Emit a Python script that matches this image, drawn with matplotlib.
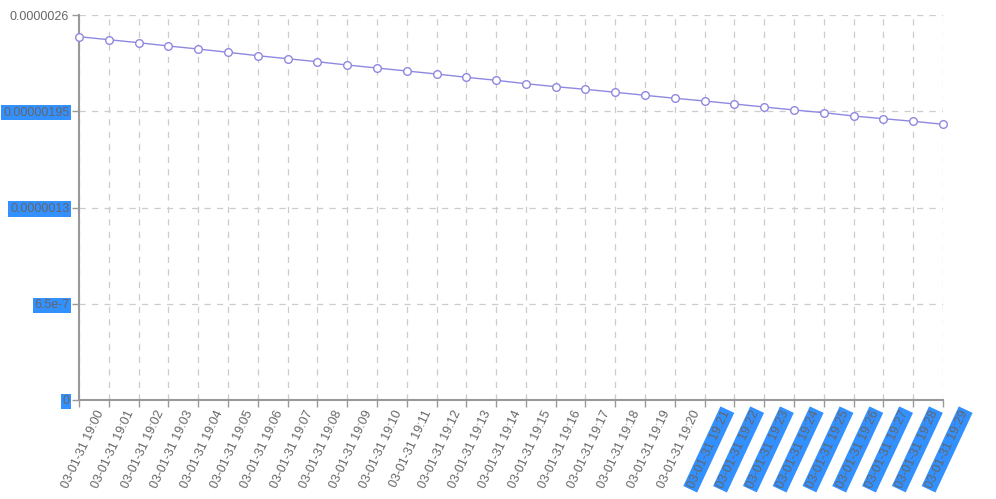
import matplotlib
matplotlib.use("Agg")
import matplotlib.pyplot as plt
from matplotlib.transforms import ScaledTranslation

plt.rcParams['font.family'] = ['Liberation Sans', 'DejaVu Sans']

categories = [f"03-01-31 19:{m:02d}" for m in range(30)]
values = [2.4535e-6, 2.4332e-6, 2.4130e-6, 2.3906e-6, 2.3704e-6, 2.3481e-6,
          2.3251e-6, 2.3049e-6, 2.2846e-6, 2.2623e-6, 2.2421e-6, 2.2218e-6,
          2.2016e-6, 2.1793e-6, 2.1590e-6, 2.1361e-6, 2.1158e-6, 2.0982e-6,
          2.0780e-6, 2.0577e-6, 2.0375e-6, 2.0192e-6, 1.9990e-6, 1.9787e-6,
          1.9584e-6, 1.9402e-6, 1.9179e-6, 1.8997e-6, 1.8821e-6, 1.8619e-6]
y_ticks = [0, 6.5e-7, 1.3e-6, 1.95e-6, 2.6e-6]
y_tick_labels = ['0', '6.5e-7', '0.0000013', '0.00000195', '0.0000026']
y_highlight = [True, True, True, True, False]
x_highlight_from = 21

W, H = 996, 499
fig = plt.figure(figsize=(W / 100, H / 100), dpi=100)
ax = fig.add_axes([79 / W, (H - 400) / H, (943 - 79) / W, (400 - 15) / H])

x = list(range(len(categories)))
ax.plot(x, values, color='#8f88e0', lw=1.0, marker='o', ms=5.5,
        mfc='white', mec='#8f88e0', mew=1.0, zorder=3, clip_on=False)

ax.set_xlim(0, len(categories) - 1)
ax.set_ylim(0, 2.6e-6)
ax.set_xticks(x)
ax.set_yticks(y_ticks)
ax.set_yticklabels(y_tick_labels)
ax.set_xticklabels(categories)

ax.grid(True, color='#cccccc', linestyle=(0, (5, 5)), lw=0.9)
ax.set_axisbelow(True)
for s in ['top', 'right']:
    ax.spines[s].set_visible(False)
for s in ['left', 'bottom']:
    ax.spines[s].set_color('#999999')
    ax.spines[s].set_linewidth(1.5)
ax.tick_params(axis='both', colors='#999999', length=5, width=1,
               labelcolor='#666666', labelsize=9)
ax.tick_params(axis='y', pad=2)
ax.tick_params(axis='x', pad=3)

sel = '#3390ff'
for lab, hl in zip(ax.get_yticklabels(), y_highlight):
    if hl:
        lab.set_bbox(dict(facecolor=sel, edgecolor='none', pad=1.2))

off = ScaledTranslation(22 / 100, 0 / 100, fig.dpi_scale_trans)
for i, lab in enumerate(ax.get_xticklabels()):
    lab.set_rotation(65)
    lab.set_rotation_mode('anchor')
    lab.set_ha('right')
    lab.set_va('center')
    lab.set_transform(lab.get_transform() + off)
    if i >= x_highlight_from:
        lab.set_bbox(dict(facecolor=sel, edgecolor='none', pad=1.2))

fig.savefig('out.png', dpi=100)
